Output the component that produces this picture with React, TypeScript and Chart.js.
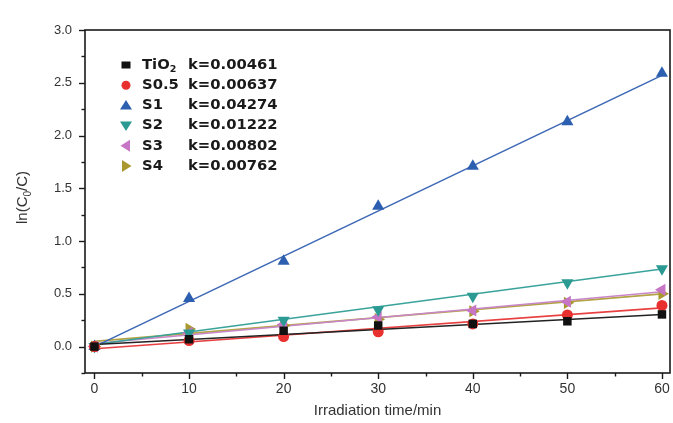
import React, { useEffect, useRef } from 'react';
import { Chart, registerables } from 'chart.js';

Chart.register(...registerables);

// ---- data ----
const times = [0, 10, 20, 30, 40, 50, 60];
const seriesNames = ['TiO', 'S0.5', 'S1', 'S2', 'S3', 'S4'];
const rateLabels = ['k=0.00461', 'k=0.00637', 'k=0.04274', 'k=0.01222', 'k=0.00802', 'k=0.00762'];
const tio2Values = [0, 0.07, 0.15, 0.2, 0.215, 0.24, 0.305];
const s05Values = [0, 0.057, 0.095, 0.14, 0.215, 0.3, 0.39];
const s1Values = [0, 0.456, 0.81, 1.33, 1.71, 2.13, 2.59];
const s2Values = [0, 0.13, 0.25, 0.35, 0.478, 0.605, 0.738];
const s3Values = [0, 0.13, 0.21, 0.28, 0.342, 0.425, 0.538];
const s4Values = [0, 0.168, 0.2, 0.26, 0.335, 0.415, 0.5];
// fitted straight lines: values at start and end time
const fitTimes = [0, 60];
const tio2Fit = [0.02, 0.305];
const s05Fit = [-0.02, 0.367];
const s1Fit = [0.0, 2.57];
const s2Fit = [0.02, 0.735];
const s3Fit = [0.03, 0.52];
const s4Fit = [0.05, 0.5];
const xTickValues = [0, 10, 20, 30, 40, 50, 60];
const yTickValues = [0, 0.5, 1.0, 1.5, 2.0, 2.5, 3.0];

const colors = ['#111111', '#e8302f', '#2d5fb0', '#2a9a92', '#c676c4', '#a8982e'];
const lineColors = ['#222222', '#e84040', '#3e68b6', '#3aa39b', '#c986c8', '#b2a444'];
const styles = ['rect', 'circle', 'triangle', 'triangle', 'triangle', 'triangle'];
const rotations = [0, 0, 0, 180, -90, 90];
const radii = [6, 5.5, 7, 7, 7, 7];

const valueSets = [tio2Values, s05Values, s1Values, s2Values, s3Values, s4Values];
const fitSets = [tio2Fit, s05Fit, s1Fit, s2Fit, s3Fit, s4Fit];

function drawMarker(ctx: CanvasRenderingContext2D, kind: number, x: number, y: number) {
  ctx.save();
  ctx.fillStyle = colors[kind];
  ctx.translate(x, y);
  const style = styles[kind];
  if (style === 'rect') {
    ctx.fillRect(-4.5, -3.5, 9, 7);
  } else if (style === 'circle') {
    ctx.beginPath();
    ctx.arc(0, 0, 4.5, 0, Math.PI * 2);
    ctx.fill();
  } else {
    ctx.rotate((rotations[kind] * Math.PI) / 180);
    ctx.beginPath();
    ctx.moveTo(0, -5.5);
    ctx.lineTo(6, 4);
    ctx.lineTo(-6, 4);
    ctx.closePath();
    ctx.fill();
  }
  ctx.restore();
}

const decorPlugin = {
  id: 'decor',
  afterDraw(chart: any) {
    const { ctx, chartArea: a, scales } = chart;
    const xs = scales.x;
    const ys = scales.y;
    ctx.save();
    // frame
    ctx.strokeStyle = '#1a1a1a';
    ctx.lineWidth = 1.6;
    ctx.strokeRect(a.left, a.top, a.right - a.left, a.bottom - a.top);
    // x ticks (major every 10, minor every 5)
    ctx.lineWidth = 1.4;
    for (let v = 0; v <= 60; v += 5) {
      const px = Math.round(xs.getPixelForValue(v)) + 0.5;
      const len = v % 10 === 0 ? 6 : 3.5;
      ctx.beginPath();
      ctx.moveTo(px, a.bottom);
      ctx.lineTo(px, a.bottom + len);
      ctx.stroke();
    }
    for (let i = -1; i <= 12; i++) {
      const v = i * 0.25;
      const py = Math.round(ys.getPixelForValue(v)) + 0.5;
      const len = i % 2 === 0 ? 6 : 3.5;
      ctx.beginPath();
      ctx.moveTo(a.left, py);
      ctx.lineTo(a.left - len, py);
      ctx.stroke();
    }
    // x tick labels
    ctx.fillStyle = '#333333';
    ctx.font = '14px "Liberation Sans", Arial, sans-serif';
    ctx.textAlign = 'center';
    ctx.textBaseline = 'top';
    for (const v of xTickValues) {
      ctx.fillText(String(v), xs.getPixelForValue(v), a.bottom + 9);
    }
    // y title with subscript
    ctx.save();
    ctx.translate(23, (a.top + a.bottom) / 2 - 4);
    ctx.rotate(-Math.PI / 2);
    ctx.textBaseline = 'middle';
    const p1 = 'ln(C';
    const p2 = '0';
    const p3 = '/C)';
    ctx.font = '15px "Liberation Sans", Arial, sans-serif';
    const w1 = ctx.measureText(p1).width;
    const w3 = ctx.measureText(p3).width;
    ctx.font = '10px "Liberation Sans", Arial, sans-serif';
    const w2 = ctx.measureText(p2).width;
    const total = w1 + w2 + w3;
    let cx = -total / 2;
    ctx.textAlign = 'left';
    ctx.font = '15px "Liberation Sans", Arial, sans-serif';
    ctx.fillText(p1, cx, 0);
    cx += w1;
    ctx.font = '10px "Liberation Sans", Arial, sans-serif';
    ctx.fillText(p2, cx, 5);
    cx += w2;
    ctx.font = '15px "Liberation Sans", Arial, sans-serif';
    ctx.fillText(p3, cx, 0);
    ctx.restore();

    // legend
    const lx = a.left + 41;
    const nameX = a.left + 57;
    const kX = a.left + 103;
    const rowTop = a.top + 35;
    ctx.textBaseline = 'middle';
    ctx.textAlign = 'left';
    ctx.fillStyle = '#1a1a1a';
    for (let i = 0; i < seriesNames.length; i++) {
      const y = rowTop + i * 20.2;
      drawMarker(ctx, i, lx, y);
      ctx.font = 'bold 14.8px "DejaVu Sans", Verdana, sans-serif';
      ctx.fillStyle = '#1a1a1a';
      ctx.fillText(seriesNames[i], nameX, y);
      if (i === 0) {
        const w = ctx.measureText(seriesNames[i]).width;
        ctx.font = 'bold 9.5px "DejaVu Sans", Verdana, sans-serif';
        ctx.fillText('2', nameX + w, y + 5);
        ctx.font = 'bold 14.8px "DejaVu Sans", Verdana, sans-serif';
      }
      ctx.fillText(rateLabels[i], kX, y);
    }
    ctx.restore();
  },
};

export default function App() {
  const ref = useRef<HTMLCanvasElement | null>(null);
  useEffect(() => {
    document.body.style.margin = '0';
    const canvas = ref.current;
    if (!canvas) return;
    const datasets: any[] = [];
    for (let i = 0; i < valueSets.length; i++) {
      datasets.push({
        label: seriesNames[i],
        data: times.map((t, j) => ({ x: t, y: valueSets[i][j] })),
        showLine: false,
        pointStyle: styles[i],
        rotation: rotations[i],
        pointRadius: radii[i],
        pointBackgroundColor: colors[i],
        pointBorderColor: colors[i],
        pointBorderWidth: 0,
        order: 0,
      });
    }
    for (let i = 0; i < fitSets.length; i++) {
      datasets.push({
        label: seriesNames[i] + ' fit',
        data: fitTimes.map((t, j) => ({ x: t, y: fitSets[i][j] })),
        showLine: true,
        pointRadius: 0,
        borderColor: lineColors[i],
        borderWidth: 1.6,
        order: 1,
      });
    }
    const chart = new Chart(canvas, {
      type: 'scatter',
      data: { datasets },
      plugins: [decorPlugin],
      options: {
        animation: false,
        responsive: false,
        devicePixelRatio: 1,
        layout: { autoPadding: false, padding: { top: 30, right: 3, left: 0, bottom: 0 } },
        plugins: { legend: { display: false }, tooltip: { enabled: false } },
        scales: {
          x: {
            type: 'linear',
            min: -1,
            max: 60.85,
            afterFit: (s: any) => {
              s.height = 50;
              s.paddingLeft = 0;
              s.paddingRight = 0;
            },
            afterBuildTicks: (s: any) => {
              s.ticks = xTickValues.map((v) => ({ value: v }));
            },
            grid: { display: false, drawTicks: false },
            border: { display: false },
            ticks: { display: false },
            title: {
              display: true,
              text: 'Irradiation time/min',
              color: '#333333',
              font: { family: '"Liberation Sans", Arial, sans-serif', size: 15 },
              padding: { top: 0, bottom: 3 },
            },
          },
          y: {
            type: 'linear',
            min: -0.25,
            max: 3.0,
            afterFit: (s: any) => {
              s.width = 85;
              s.paddingTop = 0;
              s.paddingBottom = 0;
            },
            afterBuildTicks: (s: any) => {
              s.ticks = yTickValues.map((v) => ({ value: v }));
            },
            grid: { display: false, drawTicks: false },
            border: { display: false },
            ticks: {
              padding: 13,
              color: '#333333',
              font: { family: '"Liberation Sans", Arial, sans-serif', size: 13 },
              callback: (v: any) => Number(v).toFixed(1),
            },
          },
        },
      },
    });
    return () => chart.destroy();
  }, []);
  return (
    <div style={{ position: 'relative', width: 673, height: 423, background: '#fff' }}>
      <canvas ref={ref} width={673} height={423} />
    </div>
  );
}
